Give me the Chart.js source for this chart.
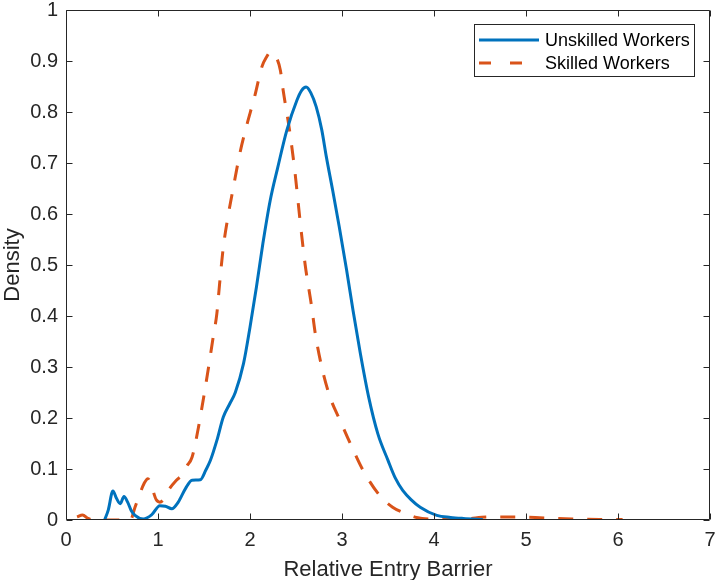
<!DOCTYPE html>
<html><head><meta charset="utf-8">
<script src="https://cdn.jsdelivr.net/npm/chart.js@4"></script>
<style>html,body{margin:0;padding:0;background:#fff}#wrap{width:718px;height:580px}</style>
</head><body><div id="wrap"><canvas id="c" width="718" height="580"></canvas></div>
<script>
const seriesLabels = ['Unskilled Workers', 'Skilled Workers'];
const unskilledX = [0.42,0.46,0.51,0.55,0.59,0.63,0.67,0.71,0.75,0.84,0.93,1.02,1.08,1.15,1.22,1.3,1.37,1.46,1.52,1.57,1.64,1.71,1.78,1.84,1.93,2.0,2.07,2.14,2.22,2.3,2.4,2.51,2.56,2.61,2.66,2.72,2.78,2.83,2.9,2.97,3.05,3.12,3.2,3.29,3.39,3.5,3.58,3.66,3.75,3.85,4.03,4.18,4.32,4.53];
const unskilledY = [0,0.02,0.057,0.042,0.032,0.046,0.035,0.018,0.009,0.002,0.01,0.028,0.027,0.022,0.035,0.062,0.078,0.079,0.098,0.117,0.156,0.202,0.228,0.25,0.307,0.378,0.457,0.542,0.627,0.69,0.764,0.823,0.842,0.849,0.838,0.81,0.765,0.712,0.645,0.575,0.49,0.411,0.326,0.241,0.169,0.117,0.082,0.058,0.04,0.025,0.009,0.005,0.003,0.001];
const skilledX = [0.12,0.18,0.24,0.3,0.7,0.75,0.8,0.85,0.89,0.94,0.98,1.02,1.06,1.12,1.2,1.26,1.31,1.37,1.44,1.49,1.55,1.6,1.64,1.67,1.71,1.76,1.82,1.89,1.96,2.05,2.13,2.18,2.22,2.27,2.33,2.36,2.43,2.49,2.54,2.6,2.67,2.71,2.78,2.87,2.98,3.09,3.23,3.41,3.55,3.66,3.81,4.0,4.3,4.6,4.9,5.2,5.5,5.8,6.05];
const skilledY = [0.006,0.01,0.003,0,0,0.025,0.05,0.072,0.081,0.06,0.04,0.035,0.04,0.06,0.078,0.088,0.105,0.123,0.182,0.234,0.30,0.359,0.405,0.464,0.535,0.594,0.653,0.719,0.771,0.83,0.889,0.908,0.917,0.912,0.882,0.843,0.764,0.68,0.594,0.5,0.418,0.365,0.30,0.241,0.195,0.15,0.097,0.048,0.025,0.015,0.005,0.002,0.002,0.006,0.006,0.004,0.002,0.001,0.001];
const xTickValues = [0,1,2,3,4,5,6,7];
const yTickValues = [0,0.1,0.2,0.3,0.4,0.5,0.6,0.7,0.8,0.9,1];
const xTitle = 'Relative Entry Barrier';
const yTitle = 'Density';

const FONT = "'Liberation Sans', Arial, Helvetica, sans-serif";
const AX = '#262626';
const BLUE = '#0072BD', RED = '#D95319';

function pts(xs, ys){ return xs.map((x,i)=>({x:x, y:ys[i]})); }

const boxPlugin = {
  id: 'boxPlugin',
  afterDraw(chart){
    const ctx = chart.ctx, a = chart.chartArea;
    const xs = chart.scales.x, ys = chart.scales.y;
    ctx.save();
    ctx.strokeStyle = AX; ctx.lineWidth = 1;
    const L = Math.round(a.left)+0.5, R = Math.round(a.right)-0.5, T = Math.round(a.top)+0.5, B = Math.round(a.bottom)-0.5;
    ctx.beginPath();
    ctx.rect(L, T, R-L, B-T);
    const tl = 6;
    xTickValues.forEach(v=>{
      const px = Math.round(xs.getPixelForValue(v))+0.5;
      ctx.moveTo(px, B); ctx.lineTo(px, B-tl);
      ctx.moveTo(px, T); ctx.lineTo(px, T+tl);
    });
    yTickValues.forEach(v=>{
      const py = Math.round(ys.getPixelForValue(v))+0.5;
      ctx.moveTo(L, py); ctx.lineTo(L+tl, py);
      ctx.moveTo(R, py); ctx.lineTo(R-tl, py);
    });
    ctx.stroke();
    // legend
    const lx = 474.5, ly = 24.5, lw = 220, lh = 52;
    ctx.fillStyle = '#fff';
    ctx.fillRect(lx, ly, lw, lh);
    ctx.strokeStyle = AX; ctx.lineWidth = 1;
    ctx.strokeRect(lx, ly, lw, lh);
    const ds = chart.data.datasets;
    const rows = [40, 63];
    ds.forEach((d,i)=>{
      ctx.beginPath();
      ctx.strokeStyle = d.borderColor; ctx.lineWidth = 3;
      ctx.setLineDash(i===1 ? [12,19] : []);
      ctx.moveTo(479, rows[i]); ctx.lineTo(539, rows[i]);
      ctx.stroke();
      ctx.setLineDash([]);
      ctx.fillStyle = '#000';
      ctx.font = '18px ' + FONT;
      ctx.textBaseline = 'middle'; ctx.textAlign = 'left';
      ctx.fillText(d.label, 545, rows[i]+1);
    });
    ctx.restore();
  }
};

new Chart(document.getElementById('c'), {
  type: 'line',
  data: {
    datasets: [
      { label: seriesLabels[0], data: pts(unskilledX, unskilledY), borderColor: BLUE, borderWidth: 3, pointRadius: 0, fill: false, cubicInterpolationMode: 'monotone' },
      { label: seriesLabels[1], data: pts(skilledX, skilledY), borderColor: RED, borderWidth: 3, borderDash: [15,14], pointRadius: 0, fill: false, cubicInterpolationMode: 'monotone' }
    ]
  },
  options: {
    responsive: false, animation: false, devicePixelRatio: 1,
    layout: { padding: { top: 10, right: 8, left: 0, bottom: 0 } },
    plugins: { legend: { display: false }, tooltip: { enabled: false } },
    scales: {
      x: {
        type: 'linear', min: 0, max: 7,
        afterBuildTicks: s => { s.ticks = xTickValues.map(v=>({value:v})); },
        ticks: { font: { family: FONT, size: 20 }, color: AX, padding: 8, maxRotation: 0, autoSkip: false, callback: v => String(v) },
        grid: { display: false, drawTicks: false }, border: { display: false },
        title: { display: true, text: xTitle, font: { family: FONT, size: 22 }, color: AX, padding: { top: -3, bottom: -3 } },
        afterFit: s => { s.height = 60; s.paddingLeft = 0; s.paddingRight = 0; }
      },
      y: {
        type: 'linear', min: 0, max: 1,
        afterBuildTicks: s => { s.ticks = yTickValues.map(v=>({value:v})); },
        ticks: { font: { family: FONT, size: 20 }, color: AX, padding: 8, autoSkip: false, callback: v => (v===0||v===1) ? String(v) : v.toFixed(1) },
        grid: { display: false, drawTicks: false }, border: { display: false },
        title: { display: true, text: yTitle, font: { family: FONT, size: 22 }, color: AX, padding: { top: 0, bottom: 0 } },
        afterFit: s => { s.width = 66; s.paddingTop = 0; s.paddingBottom = 0; }
      }
    }
  },
  plugins: [boxPlugin]
});
</script></body></html>
